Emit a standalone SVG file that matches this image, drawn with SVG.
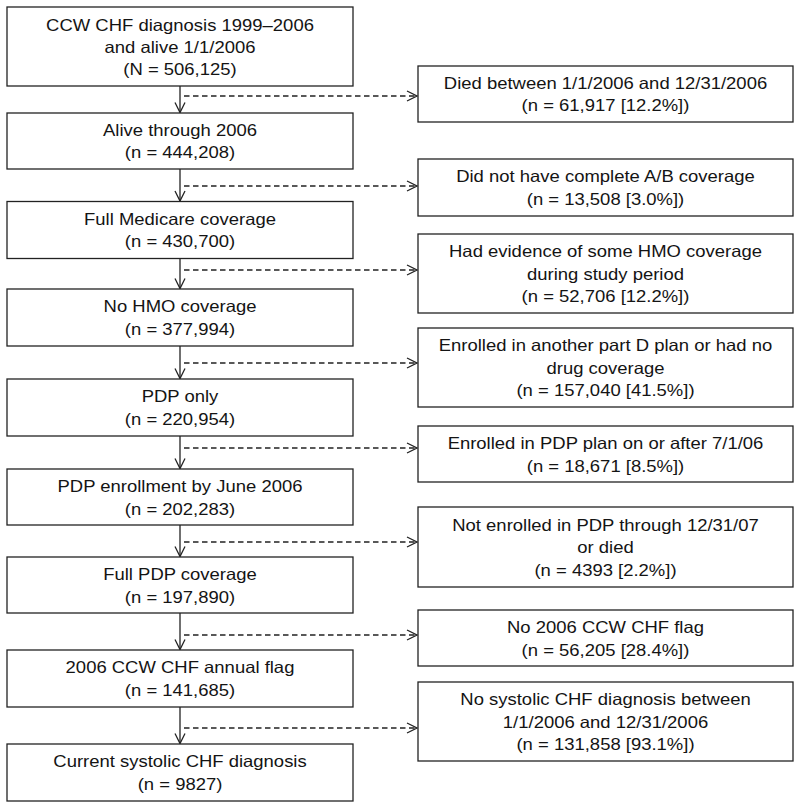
<svg xmlns="http://www.w3.org/2000/svg" width="800" height="808" viewBox="0 0 800 808">
<defs>
<style>
.box{fill:#fff;stroke:#222;stroke-width:1.3}
.t{font-family:"Liberation Sans",Arial,sans-serif;font-size:16.5px;text-anchor:middle;fill:#141414}
.v{fill:none;stroke:#222;stroke-width:1.3}
.d{fill:none;stroke:#222;stroke-width:1.3;stroke-dasharray:5.5 3.5}
</style>
<marker id="ah" viewBox="0 0 12 12" refX="11" refY="6" markerWidth="12" markerHeight="12" markerUnits="userSpaceOnUse" orient="auto">
<path d="M1,1 L11,6 L1,11" fill="none" stroke="#222" stroke-width="1.3"/>
</marker>
</defs>
<rect width="800" height="808" fill="#fff"/>
<g id="connectors">
<line class="v" x1="180" y1="86" x2="180" y2="112.5" marker-end="url(#ah)"/>
<line class="v" x1="180" y1="169" x2="180" y2="201" marker-end="url(#ah)"/>
<line class="v" x1="180" y1="258.5" x2="180" y2="288.5" marker-end="url(#ah)"/>
<line class="v" x1="180" y1="346" x2="180" y2="378.5" marker-end="url(#ah)"/>
<line class="v" x1="180" y1="436" x2="180" y2="468.5" marker-end="url(#ah)"/>
<line class="v" x1="180" y1="525" x2="180" y2="556.5" marker-end="url(#ah)"/>
<line class="v" x1="180" y1="613" x2="180" y2="649.5" marker-end="url(#ah)"/>
<line class="v" x1="180" y1="707" x2="180" y2="743.5" marker-end="url(#ah)"/>
<line class="d" x1="184" y1="96" x2="417" y2="96" marker-end="url(#ah)"/>
<line class="d" x1="184" y1="186" x2="417" y2="186" marker-end="url(#ah)"/>
<line class="d" x1="184" y1="270" x2="417" y2="270" marker-end="url(#ah)"/>
<line class="d" x1="184" y1="363" x2="417" y2="363" marker-end="url(#ah)"/>
<line class="d" x1="184" y1="448" x2="417" y2="448" marker-end="url(#ah)"/>
<line class="d" x1="184" y1="542" x2="417" y2="542" marker-end="url(#ah)"/>
<line class="d" x1="184" y1="635" x2="417" y2="635" marker-end="url(#ah)"/>
<line class="d" x1="184" y1="728" x2="417" y2="728" marker-end="url(#ah)"/>
</g>
<g id="n1"><rect class="box" x="7" y="7" width="346" height="79"/>
<g transform="translate(180 0) scale(1.12 1)"><text class="t" x="0" y="31.5">CCW CHF diagnosis 1999–2006</text><text class="t" x="0" y="53">and alive 1/1/2006</text><text class="t" x="0" y="75">(N = 506,125)</text></g></g>
<g id="n2"><rect class="box" x="7" y="113" width="346" height="56"/>
<g transform="translate(180 0) scale(1.12 1)"><text class="t" x="0" y="136.5">Alive through 2006</text><text class="t" x="0" y="158.5">(n = 444,208)</text></g></g>
<g id="n3"><rect class="box" x="7" y="201.5" width="346" height="57"/>
<g transform="translate(180 0) scale(1.12 1)"><text class="t" x="0" y="225">Full Medicare coverage</text><text class="t" x="0" y="247.5">(n = 430,700)</text></g></g>
<g id="n4"><rect class="box" x="7" y="289" width="346" height="57"/>
<g transform="translate(180 0) scale(1.12 1)"><text class="t" x="0" y="312.5">No HMO coverage</text><text class="t" x="0" y="335">(n = 377,994)</text></g></g>
<g id="n5"><rect class="box" x="7" y="379" width="346" height="57"/>
<g transform="translate(180 0) scale(1.12 1)"><text class="t" x="0" y="402.5">PDP only</text><text class="t" x="0" y="425">(n = 220,954)</text></g></g>
<g id="n6"><rect class="box" x="7" y="469" width="346" height="56"/>
<g transform="translate(180 0) scale(1.12 1)"><text class="t" x="0" y="492.5">PDP enrollment by June 2006</text><text class="t" x="0" y="515">(n = 202,283)</text></g></g>
<g id="n7"><rect class="box" x="7" y="557" width="346" height="56"/>
<g transform="translate(180 0) scale(1.12 1)"><text class="t" x="0" y="580.5">Full PDP coverage</text><text class="t" x="0" y="603">(n = 197,890)</text></g></g>
<g id="n8"><rect class="box" x="7" y="650" width="346" height="57"/>
<g transform="translate(180 0) scale(1.12 1)"><text class="t" x="0" y="673.5">2006 CCW CHF annual flag</text><text class="t" x="0" y="696">(n = 141,685)</text></g></g>
<g id="n9"><rect class="box" x="7" y="744" width="346" height="57"/>
<g transform="translate(180 0) scale(1.12 1)"><text class="t" x="0" y="767.5">Current systolic CHF diagnosis</text><text class="t" x="0" y="790">(n = 9827)</text></g></g>
<g id="r1"><rect class="box" x="418" y="66" width="375" height="56"/>
<g transform="translate(605.5 0) scale(1.12 1)"><text class="t" x="0" y="89">Died between 1/1/2006 and 12/31/2006</text><text class="t" x="0" y="111.5">(n = 61,917 [12.2%])</text></g></g>
<g id="r2"><rect class="box" x="418" y="159" width="375" height="57"/>
<g transform="translate(605.5 0) scale(1.12 1)"><text class="t" x="0" y="182.5">Did not have complete A/B coverage</text><text class="t" x="0" y="205">(n = 13,508 [3.0%])</text></g></g>
<g id="r3"><rect class="box" x="418" y="234" width="375" height="79"/>
<g transform="translate(605.5 0) scale(1.12 1)"><text class="t" x="0" y="257.5">Had evidence of some HMO coverage</text><text class="t" x="0" y="280">during study period</text><text class="t" x="0" y="302.5">(n = 52,706 [12.2%])</text></g></g>
<g id="r4"><rect class="box" x="418" y="328" width="375" height="79"/>
<g transform="translate(605.5 0) scale(1.12 1)"><text class="t" x="0" y="351.5">Enrolled in another part D plan or had no</text><text class="t" x="0" y="374">drug coverage</text><text class="t" x="0" y="396.5">(n = 157,040 [41.5%])</text></g></g>
<g id="r5"><rect class="box" x="418" y="426" width="375" height="56"/>
<g transform="translate(605.5 0) scale(1.12 1)"><text class="t" x="0" y="449.5">Enrolled in PDP plan on or after 7/1/06</text><text class="t" x="0" y="472">(n = 18,671 [8.5%])</text></g></g>
<g id="r6"><rect class="box" x="418" y="507" width="375" height="80"/>
<g transform="translate(605.5 0) scale(1.12 1)"><text class="t" x="0" y="531">Not enrolled in PDP through 12/31/07</text><text class="t" x="0" y="553.5">or died</text><text class="t" x="0" y="576">(n = 4393 [2.2%])</text></g></g>
<g id="r7"><rect class="box" x="418" y="610" width="375" height="56"/>
<g transform="translate(605.5 0) scale(1.12 1)"><text class="t" x="0" y="633.5">No 2006 CCW CHF flag</text><text class="t" x="0" y="656">(n = 56,205 [28.4%])</text></g></g>
<g id="r8"><rect class="box" x="418" y="682" width="375" height="79"/>
<g transform="translate(605.5 0) scale(1.12 1)"><text class="t" x="0" y="705.5">No systolic CHF diagnosis between</text><text class="t" x="0" y="728">1/1/2006 and 12/31/2006</text><text class="t" x="0" y="750.5">(n = 131,858 [93.1%])</text></g></g>
</svg>
